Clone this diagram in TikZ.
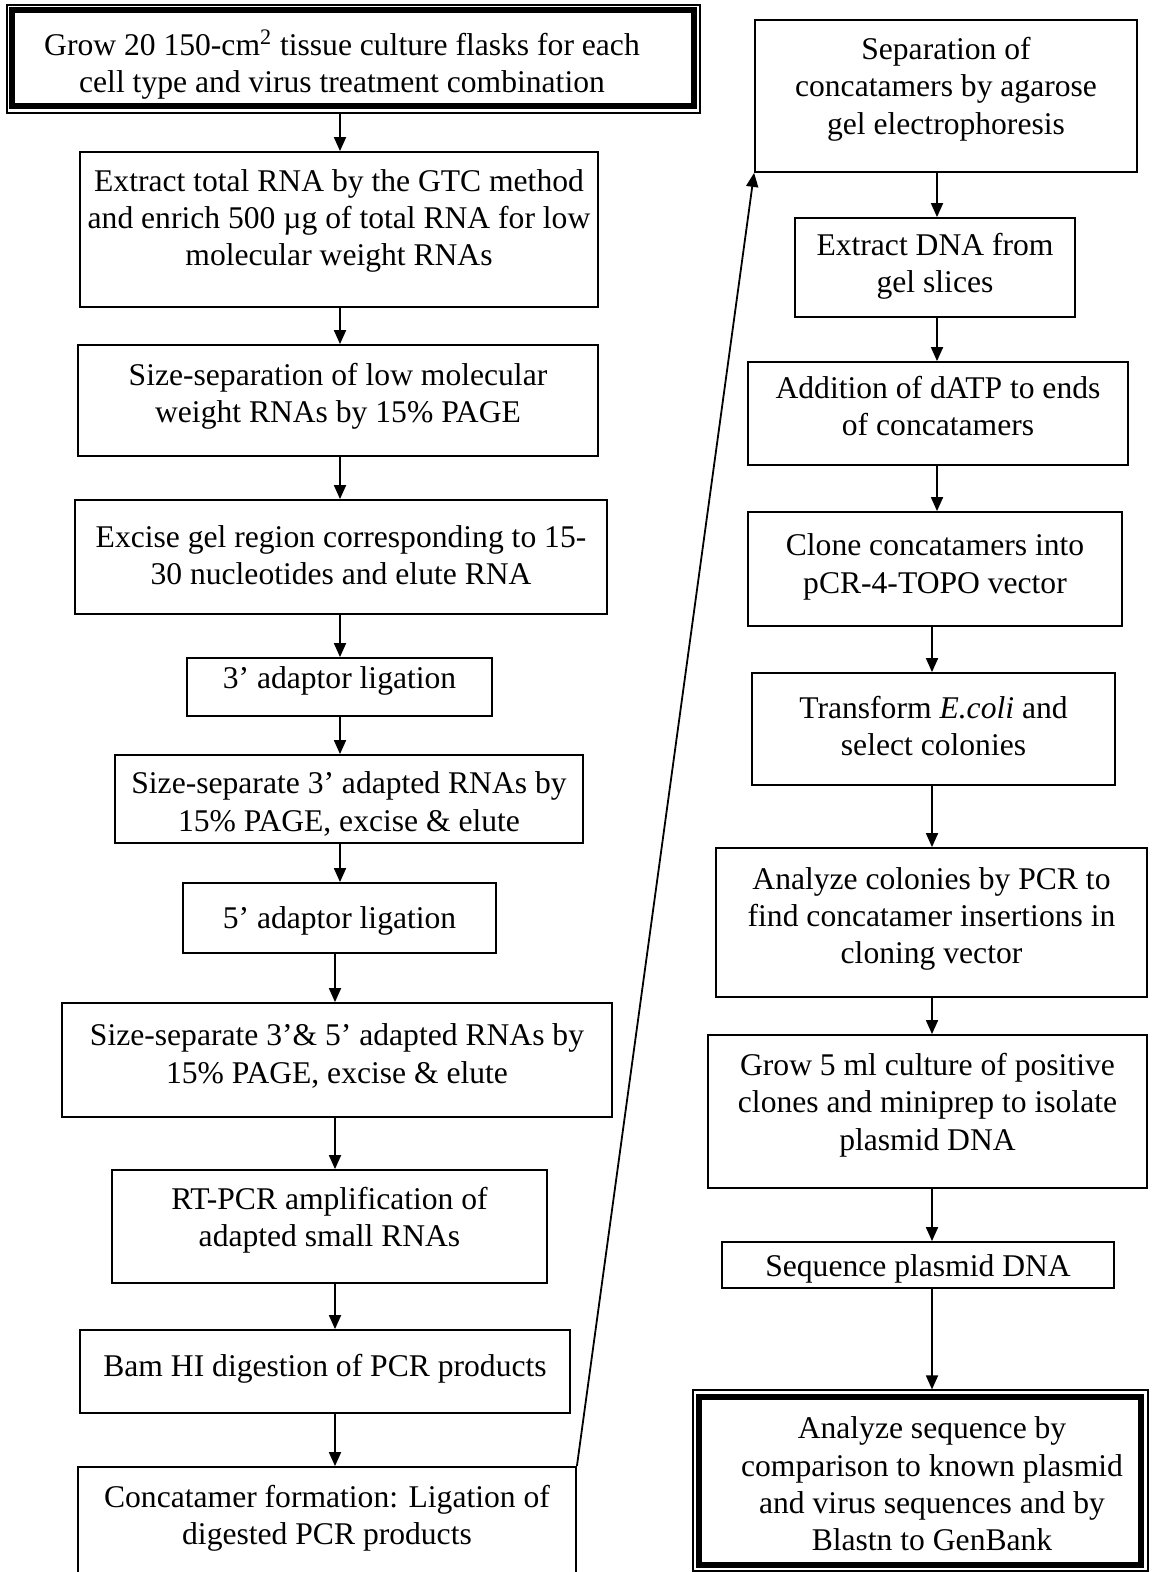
\documentclass[tikz,border=0pt]{standalone}
\usepackage{fontspec}
\setmainfont{Liberation Serif}
\usetikzlibrary{fit,arrows.meta}
\tikzset{
 box/.style={draw, line width=0.9pt, inner sep=0pt},
 thickbox/.style={draw, line width=2.6pt, inner sep=0pt},
 thinbox/.style={draw, line width=0.6pt, inner sep=0pt},
 txt/.style={align=center, font=\fontsize{15.8}{18.7}\selectfont, inner sep=0pt},
 arr/.style={-{Triangle[length=7pt,width=6pt]}, line width=0.9pt},
}
\newcommand\flowbox[7]{%
 \node[box, fit={(#2,#3) (#4,#5)}] (#1) {};
 \node[txt] (#1-t) at ({(#2+#4)/2},#6) {#7};
}
\begin{document}
\begin{tikzpicture}[x=0.5pt,y=-0.5pt]
\useasboundingbox (0,0) rectangle (1151,1572);
% top double box
\node[thinbox, fit={(7,5) (700,113)}] (l1) {};
\node[thickbox, fit={(12,10) (694,106)}] (l1i) {};
\node[txt] (l1-t) at (342,65) {Grow 20 150-cm\textsuperscript{2} tissue culture flasks for each\\cell type and virus treatment combination};
\flowbox{l2}{80}{152}{598}{307}{221}{Extract total RNA by the GTC method\\and enrich 500 µg of total RNA for low\\molecular weight RNAs}
\flowbox{l3}{78}{345}{598}{456}{396}{Size-separation of low molecular\\weight RNAs by 15\% PAGE}
\flowbox{l4}{75}{500}{607}{614}{555}{Excise gel region corresponding to 15-\\30 nucleotides and elute RNA}
\flowbox{l5}{187}{658}{492}{716}{681}{3’ adaptor ligation}
\flowbox{l6}{115}{755}{583}{843}{804}{Size-separate 3’ adapted RNAs by\\15\% PAGE, excise \& elute}
\flowbox{l7}{183}{883}{496}{953}{921}{5’ adaptor ligation}
\flowbox{l8}{62}{1003}{612}{1117}{1056}{Size-separate 3’\& 5’ adapted RNAs by\\15\% PAGE, excise \& elute}
\flowbox{l9}{112}{1170}{547}{1283}{1220}{RT-PCR amplification of\\adapted small RNAs}
\flowbox{l10}{80}{1330}{570}{1413}{1369}{Bam HI digestion of PCR products}
\flowbox{l11}{78}{1467}{576}{1610}{1518}{Concatamer formation: Ligation of\\digested PCR products}
% right column
\flowbox{r1}{755}{20}{1137}{172}{89}{Separation of\\concatamers by agarose\\gel electrophoresis}
\flowbox{r2}{795}{218}{1075}{317}{266}{Extract DNA from\\gel slices}
\flowbox{r3}{748}{362}{1128}{465}{406}{Addition of dATP to ends\\of concatamers}
\flowbox{r4}{748}{512}{1122}{626}{567}{Clone concatamers into\\pCR-4-TOPO vector}
\flowbox{r5}{752}{673}{1115}{785}{726}{Transform \textit{E.coli} and\\select colonies}
\flowbox{r6}{716}{848}{1147}{997}{919}{Analyze colonies by PCR to\\find concatamer insertions in\\cloning vector}
\flowbox{r7}{708}{1035}{1147}{1188}{1105}{Grow 5 ml culture of positive\\clones and miniprep to isolate\\plasmid DNA}
\flowbox{r8}{722}{1242}{1114}{1288}{1269}{Sequence plasmid DNA}
\node[thinbox, fit={(693,1390) (1148,1571)}] (r9) {};
\node[thickbox, fit={(699,1397) (1141,1565)}] (r9i) {};
\node[txt] (r9-t) at (932,1484) {Analyze sequence by\\comparison to known plasmid\\and virus sequences and by\\Blastn to GenBank};
% connector x positions
\coordinate (xa) at (340,0);
\coordinate (xb) at (335,0);
\coordinate (xc) at (937,0);
\coordinate (xd) at (932,0);
\draw[arr] (l1.south -| xa) -- (l2.north -| xa);
\draw[arr] (l2.south -| xa) -- (l3.north -| xa);
\draw[arr] (l3.south -| xa) -- (l4.north -| xa);
\draw[arr] (l4.south -| xa) -- (l5.north -| xa);
\draw[arr] (l5.south -| xa) -- (l6.north -| xa);
\draw[arr] (l6.south -| xa) -- (l7.north -| xa);
\draw[arr] (l7.south -| xb) -- (l8.north -| xb);
\draw[arr] (l8.south -| xb) -- (l9.north -| xb);
\draw[arr] (l9.south -| xb) -- (l10.north -| xb);
\draw[arr] (l10.south -| xb) -- (l11.north -| xb);
\draw[arr] (l11.north east) -- (r1.south west);
\draw[arr] (r1.south -| xc) -- (r2.north -| xc);
\draw[arr] (r2.south -| xc) -- (r3.north -| xc);
\draw[arr] (r3.south -| xc) -- (r4.north -| xc);
\draw[arr] (r4.south -| xd) -- (r5.north -| xd);
\draw[arr] (r5.south -| xd) -- (r6.north -| xd);
\draw[arr] (r6.south -| xd) -- (r7.north -| xd);
\draw[arr] (r7.south -| xd) -- (r8.north -| xd);
\draw[arr] (r8.south -| xd) -- (r9.north -| xd);
\end{tikzpicture}
\end{document}
